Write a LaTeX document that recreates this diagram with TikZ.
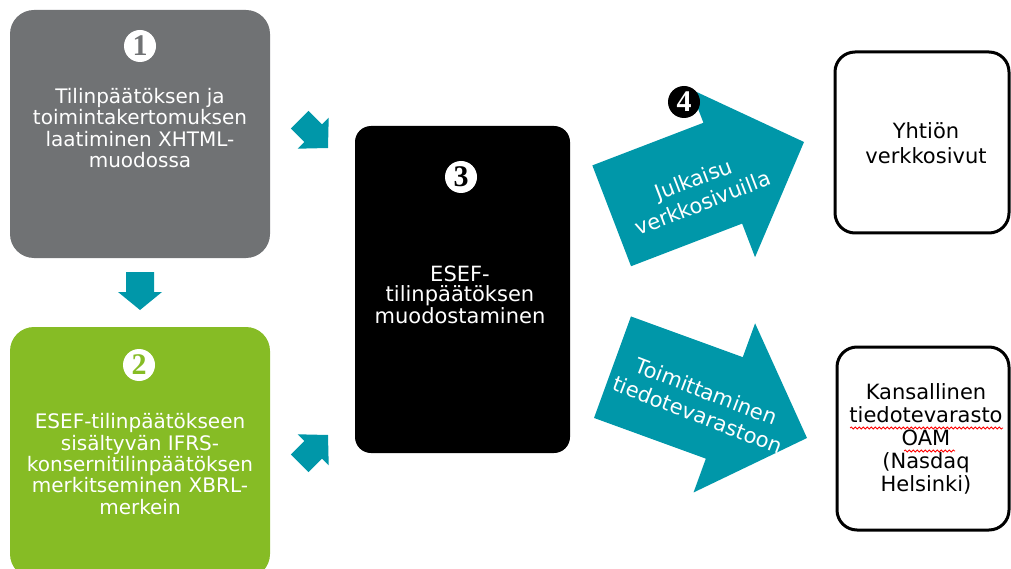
\documentclass[tikz,border=0pt]{standalone}
\usepackage{fontspec}
\setmainfont{DejaVu Sans}
\newfontfamily\numfont{Liberation Serif}
\usetikzlibrary{decorations.pathmorphing}

\definecolor{stepgrey}{RGB}{112,114,116}
\definecolor{stepgreen}{RGB}{134,188,37}
\definecolor{flowteal}{RGB}{0,151,169}

\tikzset{
  box/.style={rounded corners=24pt, minimum width=260pt, inner sep=0pt, outer sep=0pt},
  target/.style={draw=black, line width=3pt, rounded corners=20pt, inner sep=0pt},
  num/.style={circle, fill=white, inner sep=0pt, minimum size=32pt,
    font=\numfont\bfseries\fontsize{30}{30}\selectfont},
  txt/.style={align=center, text=white, inner sep=0pt, font=\fontsize{20}{21.3}\selectfont},
  flow/.style={fill=flowteal},
  spell/.style={draw=red, line width=0.8pt, decorate,
    decoration={snake, amplitude=1pt, segment length=4pt}}
}

% filled block arrow: tip, angle, length, shaft half width, head length, head half width
\newcommand{\blockarrow}[6]{%
  \fill[flow, shift={(#1)}, rotate=#2] (-#3,-#4) -- (-#5,-#4) -- (-#5,-#6) -- (0,0)
    -- (-#5,#6) -- (-#5,#4) -- (-#3,#4) -- cycle;}

\begin{document}
\begin{tikzpicture}[x=1pt, y=-1pt]
    \useasboundingbox (0,0) rectangle (1011,569);

    % the three steps
    \node[box, fill=stepgrey, minimum height=248pt] (b1) at (140,134) {};
    \node[box, fill=stepgreen, minimum height=251pt] (b2) at (140,452.5) {};
    \node[box, fill=black, rounded corners=16pt, minimum width=215pt, minimum height=327pt] (b3) at (462.5,289.5) {};

    % where the report ends up
    \node[target, minimum width=174pt, minimum height=181pt] (web) at (922,142.5) {};
    \node[target, minimum width=172pt, minimum height=183pt] (oam) at (923,438.5) {};

    % arrow tips
    \coordinate (p12) at (140,310);
    \coordinate (p13) at (328,148);
    \coordinate (p23) at (328,435);
    \coordinate (pweb) at (804,142);
    \coordinate (poam) at (807,438);

    \blockarrow{p12}{-90}{38}{14}{18}{22}
    \blockarrow{p13}{-45}{40}{12.5}{21}{22}
    \blockarrow{p23}{45}{40}{12.5}{21}{22}
    \blockarrow{pweb}{21}{206}{54}{87}{90}
    \blockarrow{poam}{-20}{207}{54}{88}{90}

    % texts
    \node[txt] (t1) at (140,128) {Tilinpäätöksen ja\\toimintakertomuksen\\laatiminen XHTML-\\muodossa};
    \node[txt] (t2) at (140,464) {ESEF-tilinpäätökseen\\sisältyvän IFRS-\\konsernitilinpäätöksen\\merkitseminen XBRL-\\merkein};
    \node[txt, font=\fontsize{21}{20}\selectfont] (t3) at (460,295) {ESEF-\\tilinpäätöksen\\muodostaminen};
    \node[txt, text=black, font=\fontsize{21}{25}\selectfont] (t4) at (926,143) {Yhtiön\\verkkosivut};
    \node[txt, text=black, font=\fontsize{21}{23}\selectfont] (t5) at (926,439) {Kansallinen\\tiedotevarasto\\OAM\\(Nasdaq\\Helsinki)};
    \node[txt, rotate=21, font=\fontsize{21}{25}\selectfont] (a4) at (698,191) {Julkaisu\\verkkosivuilla};
    \node[txt, rotate=-21, font=\fontsize{21}{25}\selectfont] (a5) at (702,403) {Toimittaminen\\tiedotevarastoon};

    % spell checker marks
    \draw[spell] (850,428) -- (1003,428);
    \draw[spell] (904,451) -- (955,451);

    % step numbers
    \node[num, text=stepgrey] (n1) at (140,46) {1};
    \node[num, text=stepgreen] (n2) at (139,365) {2};
    \node[num, text=black] (n3) at (461,177) {3};
    \node[num, fill=black, text=white] (n4) at (684,102) {4};
\end{tikzpicture}
\end{document}
